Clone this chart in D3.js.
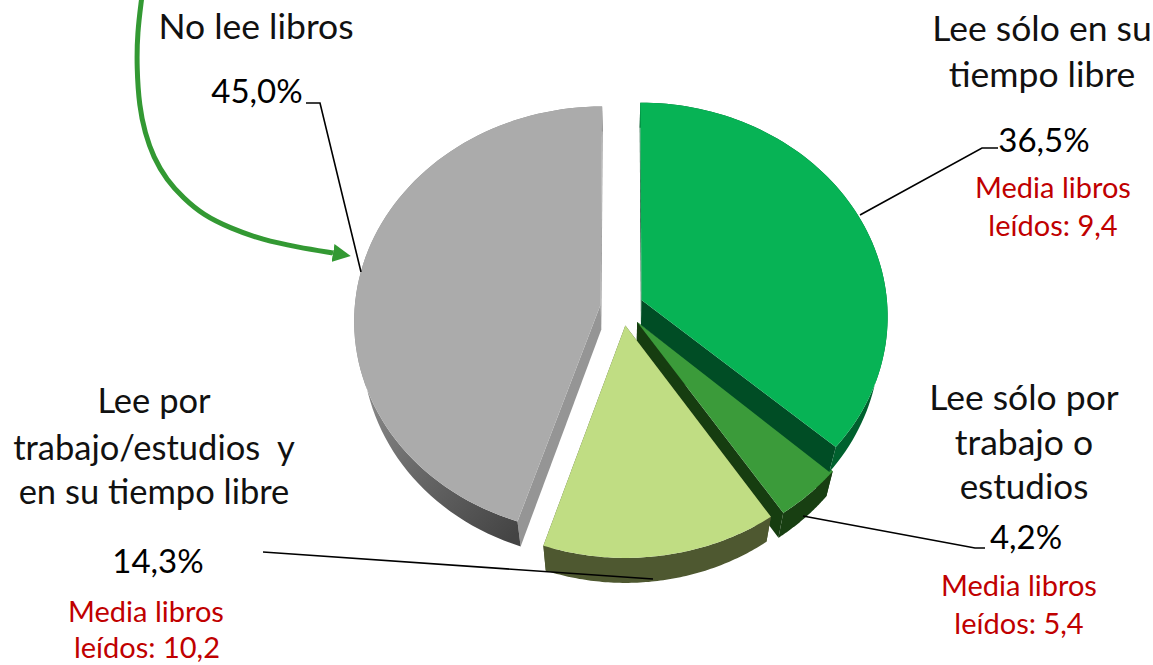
<!DOCTYPE html>
<html><head><meta charset="utf-8">
<script src="https://cdn.jsdelivr.net/npm/d3@7/dist/d3.min.js"></script>
<style>html,body{margin:0;padding:0;background:#fff;overflow:hidden}svg{display:block}text{font-family:Lato,"Open Sans",sans-serif}</style>
</head><body><svg id="c" width="1153" height="665"></svg>
<script>
const categories = ["Lee sólo en su tiempo libre","Lee sólo por trabajo o estudios","Lee por trabajo/estudios y en su tiempo libre","No lee libros"];
const shares = [36.5,4.2,14.3,45.0];
const shareLabels = ["36,5%","4,2%","14,3%","45,0%"];
const surfaceColors = ["#07b355","#3b9b3a","#c0dd83","#ababab"];
const sideColors = ["#004d25","#163d10","#4e5830","#959595"];
const rimColors = ["#00602e","#183f12","#4e5830","url(#greyRim)"];
const explosions = [0.085,0.09,0.085,0.09];

const svg = d3.select("#c");
const W=246,K=0.865,P=0.0725,CX=622.5,CY=307.5,DEPTH=25,CONV=0.03;
function proj(a,r,off,ex,z){
  const X=r*Math.sin(a)+ex*Math.sin(off), Y=-r*Math.cos(a)-ex*Math.cos(off);
  const s=1/(1-P*Y);
  let x=W*X*s, y=W*K*Y*s;
  if(z){x*=1-CONV;y+=DEPTH;}
  return [CX+x,CY+y];
}
const defs=svg.append("defs");
const g=defs.append("linearGradient").attr("id","greyRim").attr("gradientUnits","userSpaceOnUse")
 .attr("x1",360).attr("y1",380).attr("x2",520).attr("y2",530);
[[0,"#8f8f8f"],[0.45,"#6a6a6a"],[1,"#444444"]].forEach(d=>g.append("stop").attr("offset",d[0]).attr("stop-color",d[1]));
const arrowDef=defs.append("marker").attr("id","ah").attr("viewBox","0 0 10 10").attr("refX",0).attr("refY",5)
 .attr("markerWidth",18).attr("markerHeight",18).attr("markerUnits","userSpaceOnUse").attr("orient","auto");
arrowDef.append("path").attr("d","M0,0L10,5L0,10Z").attr("fill","#339933");

const arcs=d3.pie().sort(null)(shares);
const line=d3.line();
const order=[3,1,0,2];
const N=80;
order.forEach(i=>{
  const d=arcs[i],mid=(d.startAngle+d.endAngle)/2,ex=explosions[i];
  const ang=d3.range(N+1).map(t=>d.startAngle+(d.endAngle-d.startAngle)*t/N);
  const top=ang.map(a=>proj(a,1,mid,ex,false)), bot=ang.map(a=>proj(a,1,mid,ex,true));
  const c0=proj(0,0,mid,ex,false), c1=proj(0,0,mid,ex,true);
  const gr=svg.append("g");
  [N,0].forEach(k=>gr.append("path").attr("d",line([c0,top[k],bot[k],c1])+"Z").attr("fill",sideColors[i]));
  gr.append("path").attr("d",line(top.concat(bot.slice().reverse()))+"Z").attr("fill",rimColors[i]);
  gr.append("path").attr("d",line([c0].concat(top))+"Z").attr("fill",surfaceColors[i]);
});

// leaders
const leaders=[[[306,103],[320,103],[361,272]],[[998,148],[982,148],[860,215]],[[985,548],[975,548],[803,516]],[[263,552],[653,579]]];
leaders.forEach(l=>svg.append("path").attr("d",line(l)).attr("fill","none").attr("stroke","#000").attr("stroke-width",1.6));
// arrow
const arrowPts=[[141.7,-2],[137.3,33],[136.7,67],[139.3,107],[145,133],[153.3,157],[166.7,180],[183.3,198],[203.3,215],[230,228],[263,240],[297,247],[333,253]];
svg.append("path").attr("d",d3.line().curve(d3.curveBasis)(arrowPts)).attr("fill","none").attr("stroke","#339933").attr("stroke-width",5).attr("marker-end","url(#ah)");

const blackLabels=[["No lee libros",256,39,35.5],["Lee sólo en su",1042,41,35.5],["tiempo libre",1042,87,35.5],["Lee sólo por",1024,410,35.5],["trabajo o",1024,455,35.5],["estudios",1024,499,35],["Lee por",154,413,34.5],["trabajo/estudios  y",154,460,34.5],["en su tiempo libre",154,504,34.5]];
const pctPos=[[1044,152],[1026,549],[158,573],[257,103]];
const redLabels=[["Media libros",1053,198],["leídos: 9,4",1053,236],["Media libros",1019,596],["leídos: 5,4",1019,634],["Media libros",146,622],["leídos: 10,2",147,658]];
function txt(s,x,y,fs,col){svg.append("text").attr("x",x).attr("y",y).attr("text-anchor","middle").attr("font-size",fs).attr("fill",col).style("white-space","pre").text(s);}
blackLabels.forEach(d=>txt(d[0],d[1],d[2],d[3],"#111"));
shareLabels.forEach((s,i)=>txt(s,pctPos[i][0],pctPos[i][1],33,"#000"));
redLabels.forEach(d=>txt(d[0],d[1],d[2],29,"#c00000"));
</script></body></html>
